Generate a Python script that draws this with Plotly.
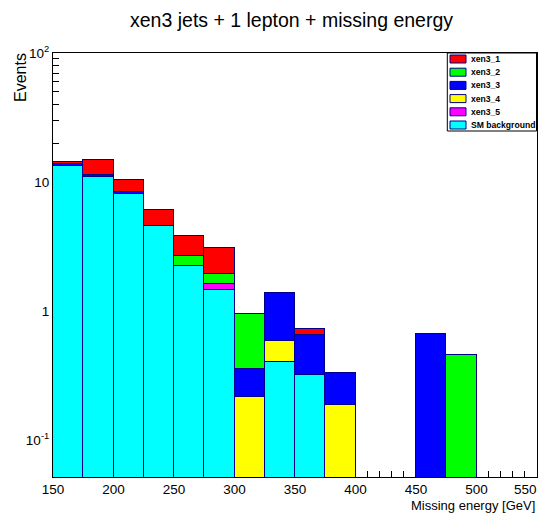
import plotly.graph_objects as go

# ---------------- data ----------------
bin_low_edges = [150, 175, 200, 225, 250, 275, 300, 325, 350, 375, 400, 425, 450, 475, 500, 525]
bin_width = 25
x_ticks = [150, 200, 250, 300, 350, 400, 450, 500, 550]
x_tick_text = ["150", "200", "250", "300", "350", "400", "450", "500", "550"]
y_tick_vals = [0.1, 1, 10, 100]
y_tick_text = ["10<sup>-1</sup>", "1", "10", "10<sup>2</sup>"]

sm_background = [13.25, 10.9, 8.05, 4.55, 2.23, 1.47, 0, 0.405, 0.319, 0, 0, 0, 0, 0, 0, 0]
xen3_5 = [0, 0, 0, 0, 0, 0.15, 0, 0, 0, 0, 0, 0, 0, 0, 0, 0]
xen3_4 = [0, 0, 0, 0, 0, 0, 0.216, 0.18, 0, 0.187, 0, 0, 0, 0, 0, 0]
xen3_3 = [0.45, 0.4, 0.3, 0.05, 0, 0, 0.143, 0.80, 0.34, 0.147, 0, 0, 0.662, 0, 0, 0]
xen3_2 = [0, 0, 0, 0, 0.43, 0.31, 0.587, 0, 0, 0, 0, 0, 0, 0.461, 0, 0]
xen3_1 = [0.7, 3.5, 2.05, 1.52, 1.14, 1.16, 0, 0, 0.065, 0, 0, 0, 0, 0, 0, 0]

# stacking order: bottom -> top
series = [
    ("SM background", sm_background, "#00ffff"),
    ("xen3_5", xen3_5, "#ff00ff"),
    ("xen3_4", xen3_4, "#ffff00"),
    ("xen3_3", xen3_3, "#0000ff"),
    ("xen3_2", xen3_2, "#00ff00"),
    ("xen3_1", xen3_1, "#ff0000"),
]
legend_order = ["xen3_1", "xen3_2", "xen3_3", "xen3_4", "xen3_5", "SM background"]

LINE = "#00008b"
SANS = "Liberation Sans, Arial, Helvetica, sans-serif"

centers = [e + bin_width / 2 for e in bin_low_edges]

fig = go.Figure()
for name, vals, col in series:
    fig.add_trace(go.Bar(
        x=centers, y=vals, width=bin_width, name=name,
        marker=dict(color=col, line=dict(color=LINE, width=1)),
        showlegend=False,
    ))

# page offset (browser body margin) and plot-area geometry in screenshot pixels
OFF = 8
SW, SH = 546, 518
PL, PR, PT, PB = 53, 537, 53, 477
PW, PH = PR - PL, PB - PT
W, H = SW - OFF, SH - OFF


def px(xp):
    return (xp - PL) / PW


def py(yp):
    return (PB - yp) / PH


minor_y = [m * d for d in (0.01, 0.1, 1, 10) for m in range(2, 10)]
minor_y = [v for v in minor_y if 0.052 < v < 100]

# the last x label sits at the very edge of the canvas: draw it right-aligned
shown_x_text = x_tick_text[:-1] + [""]

fig.update_layout(
    width=W, height=H,
    margin=dict(l=PL - OFF, r=W - (PR - OFF), t=PT - OFF, b=H - (PB - OFF), autoexpand=False),
    paper_bgcolor="white", plot_bgcolor="white",
    barmode="stack", bargap=0,
    font=dict(family=SANS, size=13.5, color="black"),
    xaxis=dict(
        range=[150, 550], tickmode="array", tickvals=x_ticks, ticktext=shown_x_text,
        ticks="inside", ticklen=12, tickcolor="black", tickwidth=1,
        minor=dict(dtick=10, ticks="inside", ticklen=6, tickcolor="black", showgrid=False),
        showline=True, mirror=True, linecolor="black", linewidth=1,
        showgrid=False, zeroline=False, layer="below traces",
        tickfont=dict(family=SANS, size=13.5),
    ),
    yaxis=dict(
        type="log", range=[-1.284, 2], tickmode="array",
        tickvals=y_tick_vals, ticktext=y_tick_text,
        ticks="inside", ticklen=12, tickcolor="black", tickwidth=1,
        minor=dict(tickmode="array", tickvals=minor_y, ticks="inside", ticklen=6,
                   tickcolor="black", showgrid=False),
        showline=True, mirror=True, linecolor="black", linewidth=1,
        showgrid=False, zeroline=False, layer="below traces",
        tickfont=dict(family=SANS, size=13.5),
    ),
)

annotations = [
    dict(text="xen3 jets + 1 lepton + missing energy", x=px(291.5), y=py(20),
         xref="paper", yref="paper", xanchor="center", yanchor="middle",
         showarrow=False, font=dict(family=SANS, size=19.5)),
    dict(text="Missing energy [GeV]", x=1, y=py(505), xref="paper", yref="paper",
         xanchor="right", yanchor="middle", showarrow=False,
         font=dict(family=SANS, size=13)),
    dict(text="Events", x=px(20), y=py(78), xref="paper", yref="paper",
         xanchor="center", yanchor="middle", textangle=-90, showarrow=False,
         font=dict(family=SANS, size=16)),
    dict(text=x_tick_text[-1], x=px(539), y=py(489), xref="paper", yref="paper",
         xanchor="right", yanchor="middle", showarrow=False,
         font=dict(family=SANS, size=13.5)),
]

shapes = [
    dict(type="rect", xref="paper", yref="paper", x0=px(447.3), x1=px(536.5),
         y0=py(131), y1=py(53), line=dict(color="black", width=1), fillcolor="white",
         layer="above"),
]
colors = {n: c for n, _, c in series}
row0, step = 59, 13.2
for i, name in enumerate(legend_order):
    yc = row0 + i * step
    shapes.append(dict(type="rect", xref="paper", yref="paper",
                       x0=px(450), x1=px(466), y0=py(yc + 4), y1=py(yc - 4),
                       fillcolor=colors[name], line=dict(color=LINE, width=1),
                       layer="above"))
    annotations.append(dict(text="<b>%s</b>" % name, x=px(469), y=py(yc),
                            xref="paper", yref="paper", xanchor="left", yanchor="middle",
                            showarrow=False, font=dict(family=SANS, size=8.6)))

fig.update_layout(annotations=annotations, shapes=shapes)
fig.write_html("out.html")
